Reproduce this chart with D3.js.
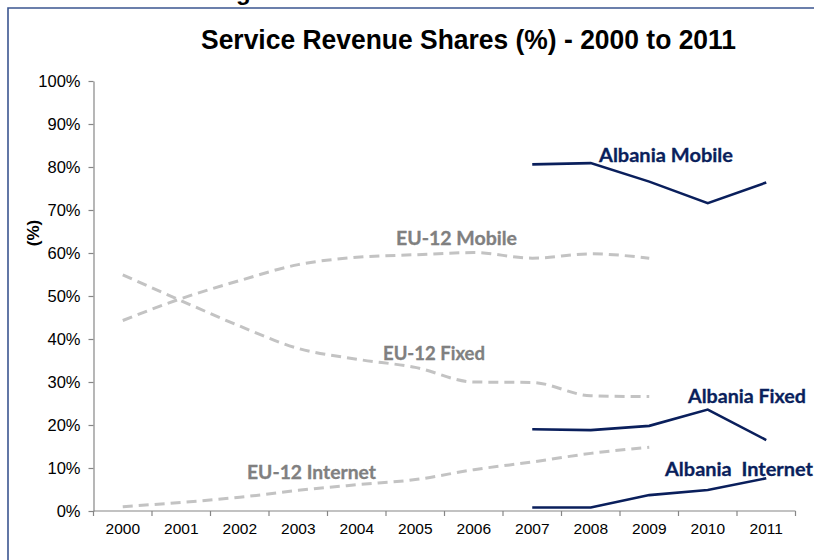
<!DOCTYPE html>
<html>
<head>
<meta charset="utf-8">
<script src="https://cdn.jsdelivr.net/npm/d3@7"></script>
<style>
  html, body { margin: 0; padding: 0; background: #fff; }
  svg { display: block; }
</style>
</head>
<body>
<svg id="chart" width="814" height="560"></svg>
<script>
// ---- data ----
const years = ["2000","2001","2002","2003","2004","2005","2006","2007","2008","2009","2010","2011"];
const euYears = ["2000","2001","2002","2003","2004","2005","2006","2007","2008","2009"];
const euMobile   = [44.3, 49.4, 53.6, 57.3, 59.0, 59.6, 60.1, 58.8, 59.8, 58.8];
const euFixed    = [54.9, 48.9, 43.0, 37.8, 35.3, 33.4, 30.0, 29.9, 26.8, 26.6];
const euInternet = [1.0, 2.0, 3.2, 4.8, 6.1, 7.3, 9.6, 11.4, 13.4, 14.8];
const alYears = ["2007","2008","2009","2010","2011"];
const alMobile   = [80.6, 80.9, 76.6, 71.6, 76.4];
const alFixed    = [19.0, 18.8, 19.8, 23.6, 16.5];
const alInternet = [0.8, 0.8, 3.7, 4.9, 7.6];
const yTicks = [0,10,20,30,40,50,60,70,80,90,100];
const title = "Service Revenue Shares (%) - 2000 to 2011";
const yTitle = "(%)";
const labels = [
  {text: "Albania Mobile",    series: "al"},
  {text: "Albania Fixed",     series: "al"},
  {text: "Albania\u00A0 Internet", series: "al"},
  {text: "EU-12 Mobile",      series: "eu"},
  {text: "EU-12 Fixed",       series: "eu"},
  {text: "EU-12 Internet",    series: "eu"}
];

// ---- layout ----
const svg = d3.select("#chart");
const X0 = 93.5, X1 = 795.5, Y0 = 511, Y1 = 81;
const xBand = d3.scaleBand().domain(years).range([X0, X1]).paddingInner(0).paddingOuter(0);
const x = d3.scalePoint().domain(years).range([X0, X1]).padding(0.5);
const y = d3.scaleLinear().domain([0, 100]).range([Y0, Y1]);

const navy = "#0a1f5c";
const gray = "#c3c3c3";
const labelGray = "#808080";
const axisCol = "#868686";

// frame
svg.append("path")
  .attr("d", "M8,560 L8,8 L814,8")
  .attr("fill", "none").attr("stroke", "#3b5590").attr("stroke-width", 1.6);
// text above the frame, cropped in the reference (only its descender shows)
svg.append("text").attr("x", 236).attr("y", 0)
  .attr("font-family", "Liberation Sans, Arial, sans-serif").attr("font-weight", "bold")
  .attr("font-size", 24).attr("fill", "#000").text("g");
svg.append("rect").attr("x", 9).attr("y", 9).attr("width", 805).attr("height", 551).attr("fill", "#fff");

// title
svg.append("text")
  .attr("x", 201).attr("y", 49)
  .attr("font-family", "Liberation Sans, Arial, sans-serif")
  .attr("font-weight", "bold").attr("font-size", 27)
  .attr("textLength", 535).attr("lengthAdjust", "spacingAndGlyphs")
  .attr("fill", "#000").text(title);

// y axis
const yAxis = svg.append("g").attr("transform", `translate(${X0},0)`)
  .call(d3.axisLeft(y).tickValues(yTicks).tickFormat(d => d + "%").tickSize(5).tickPadding(8).tickSizeOuter(0));
yAxis.select(".domain").attr("stroke", axisCol).attr("stroke-width", 1.2);
yAxis.selectAll(".tick line").attr("stroke", axisCol).attr("stroke-width", 1.2);
yAxis.selectAll(".tick text").attr("font-family", "Liberation Sans, Arial, sans-serif")
  .attr("font-size", 16.5).attr("fill", "#000");

// y title
svg.append("text")
  .attr("transform", "translate(39,233) rotate(-90)")
  .attr("text-anchor", "middle")
  .attr("font-family", "Liberation Sans, Arial, sans-serif")
  .attr("font-weight", "bold").attr("font-size", 17).attr("fill", "#000").text(yTitle);

// x axis: labels centered, ticks at band boundaries
const xAxis = svg.append("g").attr("transform", `translate(0,${Y0})`)
  .call(d3.axisBottom(xBand).tickSize(0).tickPadding(12).tickSizeOuter(0));
xAxis.select(".domain").remove();
xAxis.selectAll(".tick text").attr("font-family", "Liberation Sans, Arial, sans-serif")
  .attr("font-size", 15.5).attr("fill", "#000");
svg.append("line").attr("x1", X0).attr("x2", X1).attr("y1", Y0).attr("y2", Y0)
  .attr("stroke", axisCol).attr("stroke-width", 1.2);
const bounds = years.map(d => xBand(d)).concat([xBand(years[years.length-1]) + xBand.bandwidth()]);
svg.append("g").selectAll("line").data(bounds).join("line")
  .attr("x1", d => d).attr("x2", d => d).attr("y1", Y0).attr("y2", Y0 + 5)
  .attr("stroke", axisCol).attr("stroke-width", 1.2);

// lines
const euLine = d3.line().x((d, i) => x(euYears[i])).y(d => y(d)).curve(d3.curveMonotoneX);
const alLine = d3.line().x((d, i) => x(alYears[i])).y(d => y(d));

[euMobile, euFixed, euInternet].forEach(s => {
  svg.append("path").datum(s).attr("d", euLine)
    .attr("fill", "none").attr("stroke", gray).attr("stroke-width", 3)
    .attr("stroke-dasharray", "10,6");
});
[alMobile, alFixed, alInternet].forEach(s => {
  svg.append("path").datum(s).attr("d", alLine)
    .attr("fill", "none").attr("stroke", navy).attr("stroke-width", 2.6)
    .attr("stroke-linejoin", "miter");
});

// annotations (positioned next to their series)
const annPos = [
  {x: 599, y: 161.5, w: 134},
  {x: 688, y: 403, w: 118},
  {x: 665, y: 476, w: 148},
  {x: 396, y: 245, w: 121},
  {x: 383, y: 360, w: 102},
  {x: 247, y: 479, w: 129}
];
labels.forEach((l, i) => {
  const p = annPos[i];
  svg.append("text").attr("x", p.x).attr("y", p.y)
    .attr("font-family", "Lato, 'Open Sans', sans-serif").attr("font-weight", "bold")
    .attr("font-size", 18.5)
    .attr("textLength", p.w).attr("lengthAdjust", "spacingAndGlyphs")
    .attr("fill", l.series === "al" ? navy : labelGray)
    .attr("stroke", l.series === "al" ? navy : labelGray).attr("stroke-width", 0.3)
    .text(l.text);
});
</script>
</body>
</html>
